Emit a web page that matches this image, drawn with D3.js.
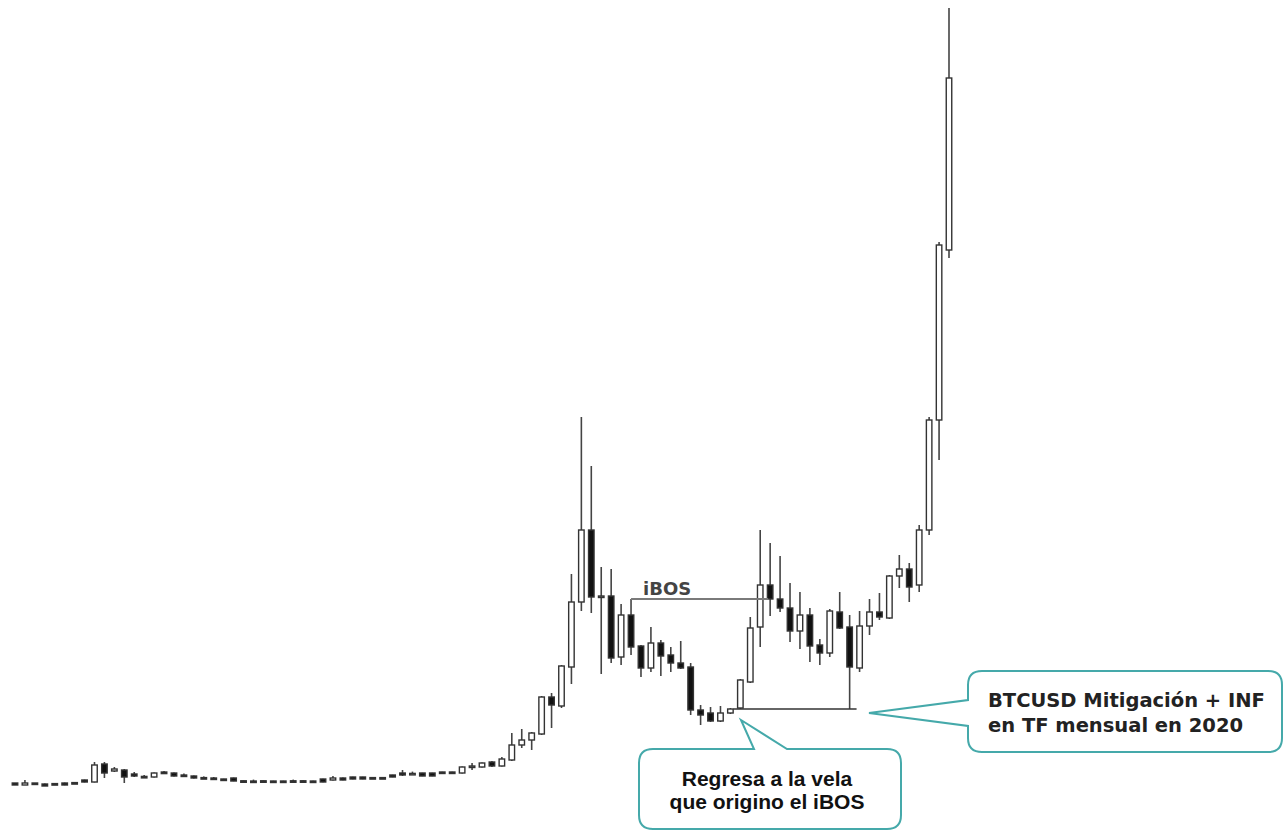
<!DOCTYPE html>
<html>
<head>
<meta charset="utf-8">
<script src="https://cdn.jsdelivr.net/npm/d3@7"></script>
<style>
  body { margin: 0; background: #fff; }
  #chart-area svg { display: block; }
</style>
</head>
<body>
<div id="chart-area"></div>
<script>
// BTCUSD monthly candles, Mar 2013 .. Jan 2021
var months = d3.timeMonth.range(new Date(2013, 2, 1), new Date(2021, 1, 1)).map(d3.timeFormat("%Y-%m"))

var opens = [850, 750, 850, 800, 820, 850, 870, 1000, 900, 1800,
  1450, 1500, 1300, 1180, 1150, 1400, 1350, 1250, 1200, 1120,
  1100, 1050, 1100, 960, 950, 960, 950, 950, 960, 960,
  950, 1050, 1000, 1100, 1150, 1150, 1120, 1120, 1250, 1350,
  1300, 1350, 1350, 1400, 1400, 1350, 1650, 1650, 1900, 1700,
  2000, 2750, 3000, 3300, 5150, 4700, 6650, 9900, 13500, 10150,
  10200, 7150, 9250, 7700, 6600, 7850, 7250, 6850, 6650, 4500,
  4350, 3950, 4350, 4600, 5900, 8650, 10750, 10050, 9600, 8450,
  9250, 7750, 7350, 9400, 8650, 6600, 8700, 9400, 9100, 11200,
  11550, 10750, 13500, 19000, 27500]
var highs = [850, 1000, 850, 820, 820, 870, 870, 1020, 1900, 1900,
  1650, 1550, 1400, 1250, 1370, 1450, 1380, 1320, 1220, 1180,
  1150, 1060, 1120, 970, 1020, 970, 960, 960, 1020, 970,
  960, 1060, 1200, 1120, 1160, 1160, 1130, 1130, 1260, 1500,
  1420, 1360, 1360, 1410, 1410, 1680, 1850, 1870, 1950, 2150,
  3350, 3550, 3400, 5200, 5350, 6750, 11300, 19150, 16700, 11650,
  11550, 9800, 10050, 7750, 8650, 8000, 7650, 7950, 6850, 4750,
  4650, 4700, 4600, 6050, 9150, 13500, 12850, 12200, 10850, 10400,
  9600, 8050, 9550, 10400, 9250, 9450, 10050, 10350, 11250, 12250,
  11850, 13750, 19150, 27900, 39600]
var lows = [750, 750, 800, 700, 780, 740, 830, 880, 880, 1100,
  1400, 850, 1150, 1100, 1130, 1300, 1180, 1150, 1080, 1050,
  1040, 990, 940, 910, 900, 920, 910, 910, 910, 910,
  910, 890, 980, 990, 1040, 1040, 1070, 1070, 1140, 1200,
  1250, 1190, 1190, 1340, 1370, 1330, 1500, 1630, 1650, 1680,
  1950, 2600, 2500, 3250, 3600, 4600, 5800, 9450, 9350, 6300,
  6850, 6750, 7250, 6150, 6400, 6200, 6400, 6550, 4250, 3750,
  3900, 3900, 4300, 4550, 5850, 7650, 9200, 9400, 7900, 7550,
  6900, 6750, 7150, 8550, 4550, 6400, 8250, 9000, 9050, 10600,
  9900, 10400, 13250, 17000, 27100]
var closes = [750, 850, 800, 700, 780, 750, 830, 900, 1750, 1350,
  1550, 1150, 1200, 1130, 1350, 1320, 1200, 1200, 1100, 1080,
  1060, 1000, 950, 920, 920, 930, 920, 920, 930, 920,
  920, 900, 1100, 1000, 1050, 1050, 1080, 1080, 1150, 1250,
  1330, 1200, 1200, 1350, 1380, 1650, 1700, 1850, 1700, 2050,
  2750, 3000, 3350, 5150, 4750, 6700, 9900, 13500, 10150, 10200,
  7100, 9250, 7650, 6600, 7850, 7200, 6850, 6600, 4500, 4250,
  3950, 4350, 4550, 6000, 8600, 10750, 10050, 9600, 8450, 9250,
  7700, 7350, 9450, 8600, 6650, 8700, 9400, 9150, 11200, 11550,
  10650, 13500, 19000, 27750, 36100]

// annotation anchors (candle indices)
var ibosFrom = 62, ibosTo = 76
var mitFrom = 72, mitTo = 85

CandleChart = function (_parentElement, _data) {
  this.parentElement = _parentElement
  this.data = _data
  this.initVis()
}

CandleChart.prototype.initVis = function () {
  var vis = this

  vis.width = 1286
  vis.height = 832

  vis.svg = d3
    .select("#" + vis.parentElement)
    .append("svg")
    .attr("width", vis.width)
    .attr("height", vis.height)

  vis.x = d3.scalePoint().domain(months).range([15, 949])
  vis.y = d3.scaleLinear().domain([0, 39600]).range([800, 8])

  vis.bodyW = 5.5

  vis.wrangleData()
}

CandleChart.prototype.wrangleData = function () {
  var vis = this
  vis.displayData = vis.data
  vis.updateVis()
}

CandleChart.prototype.updateVis = function () {
  var vis = this
  var x = vis.x, y = vis.y

  var candles = vis.svg
    .append("g")
    .attr("class", "candles")
    .selectAll("g")
    .data(vis.displayData)
    .enter()
    .append("g")

  // wicks
  candles
    .append("line")
    .attr("x1", (d) => x(d.month))
    .attr("x2", (d) => x(d.month))
    .attr("y1", (d) => y(d.high))
    .attr("y2", (d) => y(d.low))
    .attr("stroke", "#444")
    .attr("stroke-width", 1.6)

  // bodies
  candles
    .append("rect")
    .attr("x", (d) => x(d.month) - vis.bodyW / 2)
    .attr("y", (d) => y(Math.max(d.open, d.close)))
    .attr("width", vis.bodyW)
    .attr("height", (d) => Math.max(1.5, Math.abs(y(d.open) - y(d.close))))
    .attr("fill", (d) => (d.close >= d.open ? "#fff" : "#111"))
    .attr("stroke", "#333")
    .attr("stroke-width", 1.4)

  // iBOS level
  var ibos = vis.displayData[ibosFrom].high
  vis.svg
    .append("line")
    .attr("x1", x(months[ibosFrom]))
    .attr("x2", x(months[ibosTo]) - 2)
    .attr("y1", y(ibos))
    .attr("y2", y(ibos))
    .attr("stroke", "#7a7a7a")
    .attr("stroke-width", 2)

  vis.svg
    .append("text")
    .attr("x", x(months[ibosFrom]) + 12)
    .attr("y", y(ibos) - 4)
    .attr("font-family", "DejaVu Sans, Verdana, sans-serif")
    .attr("font-weight", "bold")
    .attr("font-size", 18)
    .attr("fill", "#444")
    .text("iBOS")

  // mitigation level
  var mit = vis.displayData[mitFrom].close
  vis.svg
    .append("line")
    .attr("x1", x(months[mitFrom]) + 3)
    .attr("x2", x(months[mitTo]) - 3)
    .attr("y1", y(mit))
    .attr("y2", y(mit))
    .attr("stroke", "#333")
    .attr("stroke-width", 1.6)

  // callouts
  var teal = "#45a9aa"
  var r = 14

  // right callout, pointer on left edge
  var b1 = { x0: 968, y0: 671, x1: 1282, y1: 752 }
  var p1 = [
    "M", b1.x0 + r, b1.y0,
    "L", b1.x1 - r, b1.y0,
    "Q", b1.x1, b1.y0, b1.x1, b1.y0 + r,
    "L", b1.x1, b1.y1 - r,
    "Q", b1.x1, b1.y1, b1.x1 - r, b1.y1,
    "L", b1.x0 + r, b1.y1,
    "Q", b1.x0, b1.y1, b1.x0, b1.y1 - r,
    "L", b1.x0, 726,
    "L", 869, 713,
    "L", b1.x0, 700,
    "L", b1.x0, b1.y0 + r,
    "Q", b1.x0, b1.y0, b1.x0 + r, b1.y0,
    "Z",
  ].join(" ")

  vis.svg
    .append("path")
    .attr("d", p1)
    .attr("fill", "#fff")
    .attr("stroke", teal)
    .attr("stroke-width", 2)

  var t1 = vis.svg
    .append("text")
    .attr("font-family", "DejaVu Sans, Verdana, sans-serif")
    .attr("font-weight", "bold")
    .attr("font-size", 19.5)
    .attr("fill", "#222")
  t1.append("tspan").attr("x", 988).attr("y", 707).text("BTCUSD Mitigación + INF")
  t1.append("tspan").attr("x", 988).attr("y", 732).text("en TF mensual en 2020")

  // bottom callout, pointer on top edge
  var b2 = { x0: 639, y0: 749, x1: 901, y1: 829 }
  var p2 = [
    "M", b2.x0 + r, b2.y0,
    "L", 754, b2.y0,
    "L", 741, 720,
    "L", 787, b2.y0,
    "L", b2.x1 - r, b2.y0,
    "Q", b2.x1, b2.y0, b2.x1, b2.y0 + r,
    "L", b2.x1, b2.y1 - r,
    "Q", b2.x1, b2.y1, b2.x1 - r, b2.y1,
    "L", b2.x0 + r, b2.y1,
    "Q", b2.x0, b2.y1, b2.x0, b2.y1 - r,
    "L", b2.x0, b2.y0 + r,
    "Q", b2.x0, b2.y0, b2.x0 + r, b2.y0,
    "Z",
  ].join(" ")

  vis.svg
    .append("path")
    .attr("d", p2)
    .attr("fill", "#fff")
    .attr("stroke", teal)
    .attr("stroke-width", 2)

  var t2 = vis.svg
    .append("text")
    .attr("font-family", "Liberation Sans, Arial, sans-serif")
    .attr("font-weight", "bold")
    .attr("font-size", 21)
    .attr("fill", "#111")
    .attr("text-anchor", "middle")
  t2.append("tspan").attr("x", 767).attr("y", 786).text("Regresa a la vela")
  t2.append("tspan").attr("x", 767).attr("y", 809).text("que origino el iBOS")
}

var candleData = months.map((m, i) => ({
  month: m,
  open: opens[i],
  high: highs[i],
  low: lows[i],
  close: closes[i],
}))

var chart = new CandleChart("chart-area", candleData)
</script>
</body>
</html>
